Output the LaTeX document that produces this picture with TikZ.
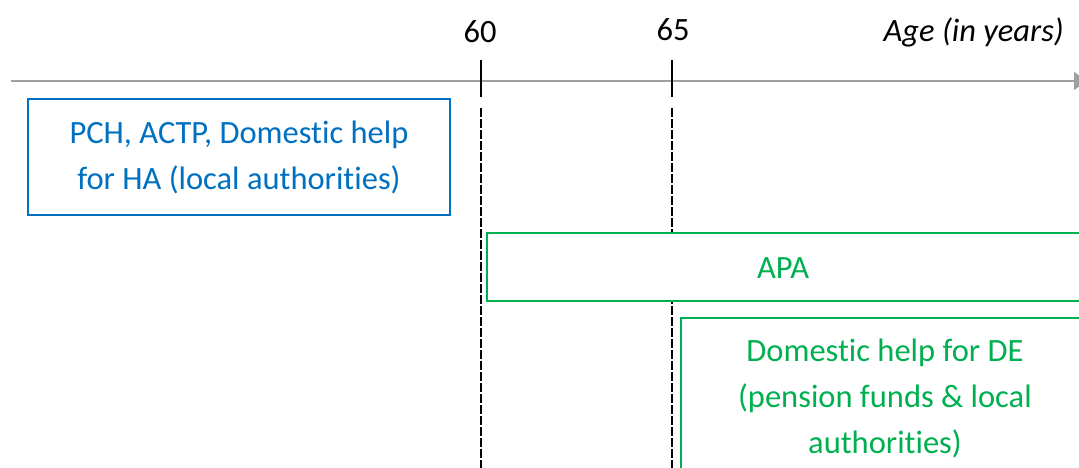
\documentclass[tikz,border=0pt]{standalone}
\usepackage{fontspec}
\setmainfont{Carlito}[Ligatures=NoCommon]
\usetikzlibrary{arrows.meta}
\definecolor{bluec}{HTML}{0070C0}
\definecolor{greenc}{HTML}{00B050}
\definecolor{axisc}{HTML}{A0A0A0}
\begin{document}
\begin{tikzpicture}[x=1pt,y=1pt,
  lbl/.style={font=\fontsize{32.5}{46}\selectfont, inner sep=0pt, align=center},
  tickline/.style={black, line width=2.4pt},
  guide/.style={black, line width=2.4pt, dash pattern=on 9pt off 2pt},
  bluebox/.style={draw=bluec, line width=2.4pt},
  greenbox/.style={draw=greenc, line width=2.4pt}]
\useasboundingbox (0,0) rectangle (1079,468);
\clip (0,0) rectangle (1079,468);
% axis
\coordinate (axL) at (11,387);
\coordinate (axR) at (1086,387);
\draw[axisc, line width=2.4pt, -{Triangle[length=12pt,width=18pt]}] (axL) -- (axR);
\node[lbl, anchor=east] (age) at (1064,436) {\itshape Age (in years)};
% ticks
\node[lbl] (t60) at (480,436) {60};
\node[lbl] (t65) at (673,438) {65};
\coordinate (a60) at (481,408); \coordinate (b60) at (481,371);
\coordinate (c60) at (481,360); \coordinate (d60) at (481,0);
\coordinate (a65) at (672,408); \coordinate (b65) at (672,371);
\coordinate (c65) at (672,360); \coordinate (d65) at (672,0);
\draw[tickline] (a60) -- (b60);
\draw[tickline] (a65) -- (b65);
\draw[guide] (c60) -- (d60);
\draw[guide] (c65) -- (d65);
% blue box
\draw[bluebox, fill=white] (28,253) rectangle (450,369);
\node[lbl, text=bluec] (hab) at (239,311) {PCH, ACTP, Domestic help\\for HA (local authorities)};
% APA box
\draw[greenbox, fill=white] (487,167) rectangle (1100,235);
\node[lbl, text=greenc] (apa) at (783,200) {APA};
% DE box
\draw[greenbox, fill=white] (681,-20) rectangle (1100,150);
\node[lbl, text=greenc] (de) at (885,70) {Domestic help for DE\\(pension funds \& local\\authorities)};
\end{tikzpicture}
\end{document}
